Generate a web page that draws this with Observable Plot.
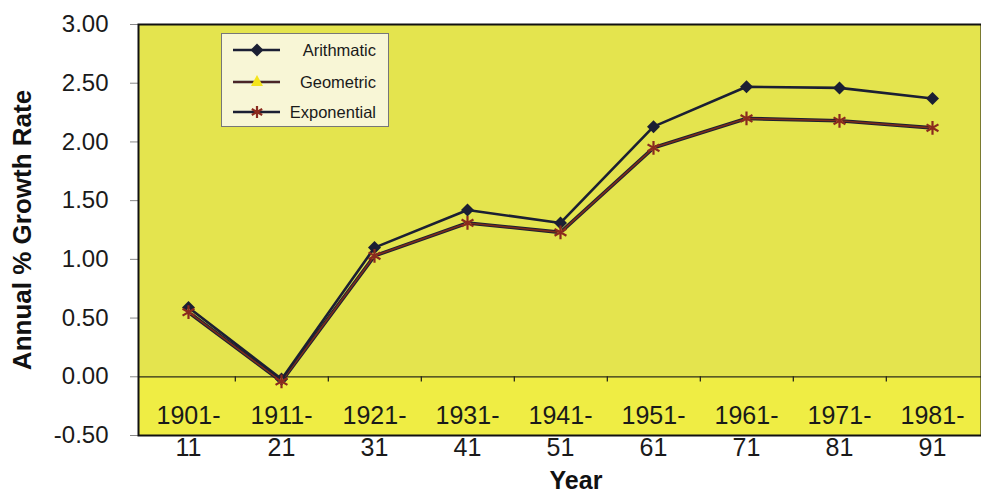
<!DOCTYPE html>
<html>
<head>
<meta charset="utf-8">
<script src="https://cdn.jsdelivr.net/npm/d3@7"></script>
<script src="https://cdn.jsdelivr.net/npm/@observablehq/plot@0.6"></script>
<style>
  html, body { margin: 0; padding: 0; background: #fff; }
  #wrap { position: relative; width: 981px; height: 496px; font-family: "Liberation Sans", Arial, sans-serif; }
  #legend { position: absolute; left: 221px; top: 33px; width: 166px; height: 92px;
            background: #f8f6d6; border: 1.5px solid #777; }
</style>
</head>
<body>
<div id="wrap"></div>
<script>
const categories = ["1901-11","1911-21","1921-31","1931-41","1941-51","1951-61","1961-71","1971-81","1981-91"];
const arithmatic  = [0.59, -0.02, 1.10, 1.42, 1.31, 2.13, 2.47, 2.46, 2.37];
const geometric   = [0.55, -0.04, 1.03, 1.31, 1.23, 1.95, 2.20, 2.18, 2.12];
const exponential = [0.55, -0.04, 1.03, 1.31, 1.23, 1.95, 2.20, 2.18, 2.12];
const yTicks = [-0.5, 0, 0.5, 1, 1.5, 2, 2.5, 3];
const seriesNames = ["Arithmatic", "Geometric", "Exponential"];
const yLabel = "Annual % Growth Rate";
const xLabel = "Year";

const rows = (vals) => categories.map((c, i) => ({cat: c, v: vals[i]}));
const A = rows(arithmatic), G = rows(geometric), E = rows(exponential);

const navy = "#1b1f33", brown = "#7a2c1c", star = "#8a2a1e";
const step = 843 / 9;

const chart = Plot.plot({
  width: 981, height: 496,
  marginLeft: 138, marginRight: 0, marginTop: 24, marginBottom: 61,
  style: {fontFamily: "Liberation Sans, Arial, sans-serif", fontSize: "24px", color: "#1a1a1a", background: "transparent"},
  x: {type: "point", domain: categories, padding: 0.5},
  y: {domain: [-0.5, 3]},
  marks: [
    Plot.frame({fill: "#e4e44e"}),
    Plot.rect([{}], {y1: yTicks[0], y2: 0, fill: "#efed44"}),
    Plot.ruleY([0], {stroke: "#2a2a1a", strokeWidth: 1.3}),
    Plot.ruleX(categories.slice(0, -1), {y1: 0, y2: -0.045, dx: step / 2, stroke: "#2a2a1a", strokeWidth: 1.3}),
    Plot.axisY({ticks: yTicks, tickFormat: d => d.toFixed(2), tickSize: 8, tickPadding: 22, label: null, stroke: "#888"}),
    Plot.axisX({tickSize: 0, tickPadding: 3, fontSize: 25, tickFormat: d => d.split("-")[1], label: null}),
    Plot.text(categories, {x: d => d, y: -0.33, fontSize: 25, text: d => d.split("-")[0] + "-", fill: "#1a1a1a"}),
    Plot.line(E, {x: "cat", y: "v", stroke: navy, strokeWidth: 3.6}),
    Plot.line(G, {x: "cat", y: "v", stroke: brown, strokeWidth: 1.6}),
    Plot.line(A, {x: "cat", y: "v", stroke: navy, strokeWidth: 2.6}),
    Plot.dot(A, {x: "cat", y: "v", symbol: "square", rotate: 45, fill: navy, r: 5.2}),
    Plot.dot(G, {x: "cat", y: "v", symbol: "triangle", fill: "#e4e44e", r: 3}),
    Plot.dot(E, {x: "cat", y: "v", symbol: "asterisk", stroke: star, strokeWidth: 2.2, r: 6.5}),
    Plot.frame({stroke: "#111", strokeWidth: 2}),
    Plot.text([yLabel], {frameAnchor: "left", textAnchor: "middle", dx: -116, rotate: -90, fontWeight: "bold", fontSize: 26, fill: "#111"}),
    Plot.text([xLabel], {frameAnchor: "bottom", dy: 53, dx: 16, fontWeight: "bold", fontSize: 25, fill: "#111"})
  ]
});

const wrap = document.getElementById("wrap");
wrap.appendChild(chart);

// Legend
const legend = document.createElement("div");
legend.id = "legend";
const ns = "http://www.w3.org/2000/svg";
const svg = document.createElementNS(ns, "svg");
svg.setAttribute("width", 166); svg.setAttribute("height", 92);
const rowY = [16, 48, 78];
const el = (tag, attrs) => { const e = document.createElementNS(ns, tag); for (const k in attrs) e.setAttribute(k, attrs[k]); svg.appendChild(e); return e; };
seriesNames.forEach((name, i) => {
  const y = rowY[i];
  if (i === 0) {
    el("line", {x1: 11, x2: 58, y1: y, y2: y, stroke: navy, "stroke-width": 2.6});
    el("path", {d: `M35,${y-6.5}L41.5,${y}L35,${y+6.5}L28.5,${y}Z`, fill: navy});
  } else if (i === 1) {
    el("line", {x1: 11, x2: 58, y1: y, y2: y, stroke: navy, "stroke-width": 2.4});
    el("line", {x1: 11, x2: 58, y1: y, y2: y, stroke: brown, "stroke-width": 1.2});
    el("path", {d: `M35,${y-7}L41,${y+4}L29,${y+4}Z`, fill: "#f4e41c"});
  } else {
    el("line", {x1: 11, x2: 58, y1: y, y2: y, stroke: navy, "stroke-width": 2.6});
    el("path", {d: `M35,${y-6}L35,${y+6}M29.8,${y-3}L40.2,${y+3}M29.8,${y+3}L40.2,${y-3}`, stroke: star, "stroke-width": 2.2});
  }
  const t = el("text", {x: 154, y: y, "text-anchor": "end", "dominant-baseline": "central",
    "font-family": "Liberation Sans, Arial, sans-serif", "font-size": 16.5, fill: "#1a1a1a"});
  t.textContent = name;
});
legend.appendChild(svg);
wrap.appendChild(legend);
</script>
</body>
</html>
